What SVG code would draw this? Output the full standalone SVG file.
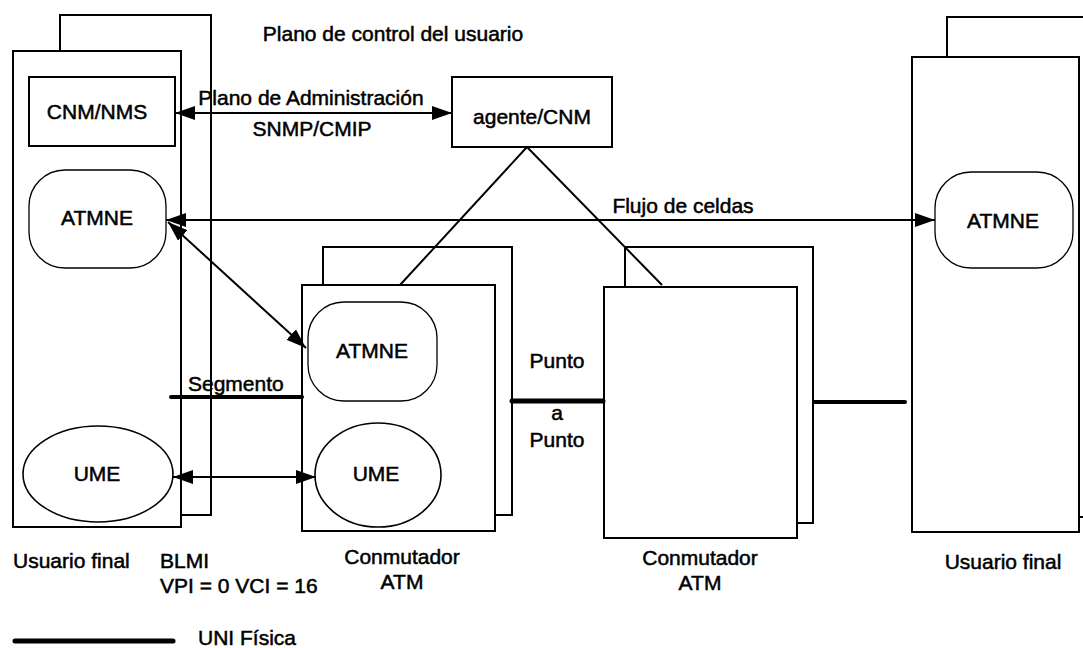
<svg xmlns="http://www.w3.org/2000/svg" width="1083" height="648" viewBox="0 0 1083 648">
<style>
text{font-family:"Liberation Sans",Arial,sans-serif;font-size:21px;fill:#000;stroke:#000;stroke-width:0.5px}
.mid{text-anchor:middle}
.box{fill:#fff;stroke:#000;stroke-width:2}
.rr{fill:#fff;stroke:#000;stroke-width:1.3}
.el{fill:#fff;stroke:#000;stroke-width:1.6}
.ln{fill:none;stroke:#000;stroke-width:2}
.thick{fill:none;stroke:#000;stroke-width:5;stroke-linecap:round}
</style>
<defs>
<marker id="ah" viewBox="0 0 20 14" refX="20" refY="7" markerWidth="20" markerHeight="14" markerUnits="userSpaceOnUse" orient="auto-start-reverse">
<path d="M0,0 L20,7 L0,14 Z" fill="#000"/>
</marker>
</defs>
<rect width="1083" height="648" fill="#fff"/>

<g id="usuario-final-izq">
<rect class="box" x="60" y="15" width="151" height="500"/>
<rect class="box" x="13" y="51" width="168" height="476"/>
<text x="13" y="568">Usuario final</text>
</g>
<g id="cnm-nms">
<rect class="box" x="29" y="77" width="146" height="69"/>
<text class="mid" x="97" y="119">CNM/NMS</text>
</g>
<g id="atmne-izq">
<rect class="rr" x="29" y="170" width="137" height="98" rx="36" ry="36"/>
<text class="mid" x="97" y="225">ATMNE</text>
</g>
<g id="ume-izq">
<ellipse class="el" cx="98" cy="474" rx="75" ry="48"/>
<text class="mid" x="97" y="481">UME</text>
</g>

<g id="agente-cnm">
<rect class="box" x="452" y="77" width="160" height="70"/>
<text class="mid" x="532" y="124">agente/CNM</text>
</g>

<g id="conmutador-1">
<rect class="box" x="323" y="247" width="189" height="268"/>
<rect class="box" x="302" y="285" width="193" height="246"/>
<text class="mid" x="402" y="564">Conmutador</text>
<text class="mid" x="402" y="589">ATM</text>
</g>
<g id="atmne-conm1">
<rect class="rr" x="308" y="302" width="129" height="99" rx="36" ry="36"/>
<text class="mid" x="372" y="358">ATMNE</text>
</g>
<g id="ume-conm1">
<ellipse class="el" cx="378" cy="475" rx="63" ry="52"/>
<text class="mid" x="376" y="481">UME</text>
</g>

<g id="conmutador-2">
<rect class="box" x="625" y="247" width="188" height="276"/>
<rect class="box" x="604" y="287" width="193" height="251"/>
<text class="mid" x="700" y="565">Conmutador</text>
<text class="mid" x="700" y="590">ATM</text>
</g>

<g id="usuario-final-der">
<rect class="box" x="947" y="17" width="140" height="500"/>
<rect class="box" x="912" y="57" width="167" height="475"/>
<text class="mid" x="1003" y="569">Usuario final</text>
</g>
<g id="atmne-der">
<rect class="rr" x="935" y="172" width="138" height="96" rx="36" ry="36"/>
<text class="mid" x="1003" y="228">ATMNE</text>
</g>

<g id="connectors">
<line class="ln" x1="175" y1="113" x2="452" y2="113" marker-start="url(#ah)" marker-end="url(#ah)"/>
<line class="ln" x1="166" y1="220" x2="935" y2="220" marker-start="url(#ah)" marker-end="url(#ah)"/>
<line class="ln" x1="168" y1="222" x2="306" y2="348" marker-start="url(#ah)" marker-end="url(#ah)"/>
<line class="ln" x1="173" y1="477" x2="316" y2="477" marker-start="url(#ah)" marker-end="url(#ah)"/>
<line class="ln" x1="527" y1="147" x2="400" y2="285"/>
<line class="ln" x1="527" y1="147" x2="662" y2="285"/>
<line class="thick" x1="171" y1="397" x2="302" y2="397" style="stroke-width:4"/>
<line class="thick" x1="512" y1="401" x2="603" y2="401"/>
<line class="thick" x1="814" y1="402" x2="905" y2="402" style="stroke-width:4"/>
</g>

<g id="labels">
<text x="393" y="41" class="mid">Plano de control del usuario</text>
<text x="311" y="105" class="mid">Plano de Administración</text>
<text x="312" y="136" class="mid">SNMP/CMIP</text>
<text x="683" y="213" class="mid">Flujo de celdas</text>
<text x="188" y="391">Segmento</text>
<text x="557" y="368" class="mid">Punto</text>
<text x="557" y="420" class="mid">a</text>
<text x="557" y="447" class="mid">Punto</text>
<text x="160" y="568">BLMI</text>
<text x="160" y="593">VPI = 0 VCI = 16</text>
</g>

<g id="legend">
<line class="thick" x1="15" y1="641" x2="173" y2="641"/>
<text x="198" y="645">UNI Física</text>
</g>
</svg>
